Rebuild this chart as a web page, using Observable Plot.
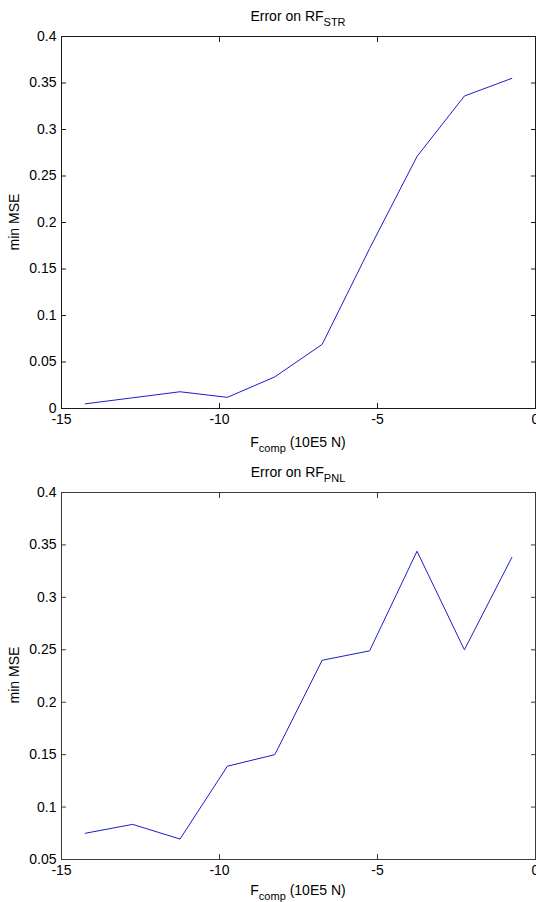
<!DOCTYPE html>
<html>
<head>
<meta charset="utf-8">
<script src="https://cdn.jsdelivr.net/npm/d3@7"></script>
<script src="https://cdn.jsdelivr.net/npm/@observablehq/plot@0.6"></script>
<style>
  html, body { margin: 0; padding: 0; background: #fff; }
  #page { position: relative; width: 536px; height: 902px; overflow: hidden;
          font-family: "Liberation Sans", Arial, Helvetica, sans-serif; color: #000; }
  .t { position: absolute; font-size: 14px; white-space: nowrap; line-height: 1; transform: translateX(-50%); }
  .t sub { font-size: 11px; vertical-align: -5px; line-height: 0; }
  .yl { position: absolute; font-size: 14px; white-space: nowrap; line-height: 1;
        transform: translate(-50%, -50%) rotate(-90deg); }
  .chart { position: absolute; left: 0; }
</style>
</head>
<body>
<div id="page"></div>
<script>
// ---- data ----
const xValues   = [-14.25, -12.75, -11.25, -9.75, -8.25, -6.75, -5.25, -3.75, -2.25, -0.75];
const strValues = [0.005, 0.0115, 0.018, 0.012, 0.034, 0.069, 0.172, 0.271, 0.336, 0.355];
const pnlValues = [0.075, 0.0835, 0.0695, 0.139, 0.150, 0.240, 0.249, 0.344, 0.250, 0.338];
const xTicks    = [-15, -10, -5, 0];
const yTicksStr = [0, 0.05, 0.1, 0.15, 0.2, 0.25, 0.3, 0.35, 0.4];
const yTicksPnl = [0.05, 0.1, 0.15, 0.2, 0.25, 0.3, 0.35, 0.4];
const titleStr  = ["Error on RF", "STR"];
const titlePnl  = ["Error on RF", "PNL"];
const xLabel    = ["F", "comp", " (10E5 N)"];
const yLabel    = "min MSE";

const page = document.getElementById("page");

function makeChart({values, yDomain, yTicks, top, frameTop, frameBottom, frameColor}) {
  const H = frameBottom - top + 40;
  const data = xValues.map((x, i) => ({x, y: values[i]}));
  const chart = Plot.plot({
    width: 536,
    height: H,
    marginLeft: 61,
    marginRight: 1,
    marginTop: frameTop - top,
    marginBottom: H - (frameBottom - top),
    style: {fontFamily: '"Liberation Sans", Arial, sans-serif', fontSize: "14px", color: "#000", background: "transparent", overflow: "visible"},
    x: {domain: [-15, 0]},
    y: {domain: yDomain},
    marks: [
      // inward ticks
      Plot.axisX({anchor: "bottom", ticks: xTicks, tickSize: 5, dy: -5, tickFormat: () => "", label: null, stroke: frameColor}),
      Plot.axisX({anchor: "top", ticks: xTicks, tickSize: 5, dy: 5, tickFormat: () => "", label: null, stroke: frameColor}),
      Plot.axisY({anchor: "left", ticks: yTicks, tickSize: 5, dx: 5, tickFormat: () => "", label: null, stroke: frameColor}),
      Plot.axisY({anchor: "right", ticks: yTicks, tickSize: 5, dx: -5, tickFormat: () => "", label: null, stroke: frameColor}),
      // labels
      Plot.axisX({anchor: "bottom", ticks: xTicks, tickSize: 0, tickPadding: 6, tickFormat: d => String(d), label: null}),
      Plot.axisY({anchor: "left", ticks: yTicks, tickSize: 0, tickPadding: 5, tickFormat: d => String(d), label: null}),
      Plot.line(data, {x: "x", y: "y", stroke: "#1c1cd0", strokeWidth: 1}),
      Plot.frame({stroke: frameColor, strokeWidth: 1})
    ]
  });
  chart.classList.add("chart");
  chart.style.top = top + "px";
  page.appendChild(chart);
}

function addTitle(parts, topPx) {
  const d = document.createElement("div");
  d.className = "t";
  d.style.left = "298px";
  d.style.top = topPx + "px";
  d.innerHTML = parts[0] + "<sub>" + parts[1] + "</sub>";
  page.appendChild(d);
}
function addXLabel(topPx) {
  const d = document.createElement("div");
  d.className = "t";
  d.style.left = "298px";
  d.style.top = topPx + "px";
  d.innerHTML = xLabel[0] + "<sub>" + xLabel[1] + "</sub>" + xLabel[2];
  page.appendChild(d);
}
function addYLabel(centerY) {
  const d = document.createElement("div");
  d.className = "yl";
  d.style.left = "14px";
  d.style.top = centerY + "px";
  d.textContent = yLabel;
  page.appendChild(d);
}

// top panel
addTitle(titleStr, 9);
makeChart({values: strValues, yDomain: [0, 0.4], yTicks: yTicksStr, top: 20, frameTop: 36, frameBottom: 408, frameColor: "#1a1a1a"});
addXLabel(435);
addYLabel(222);

// bottom panel
addTitle(titlePnl, 465);
makeChart({values: pnlValues, yDomain: [0.05, 0.4], yTicks: yTicksPnl, top: 476, frameTop: 492, frameBottom: 859, frameColor: "#3a3a3a"});
addXLabel(883);
addYLabel(675);
</script>
</body>
</html>
